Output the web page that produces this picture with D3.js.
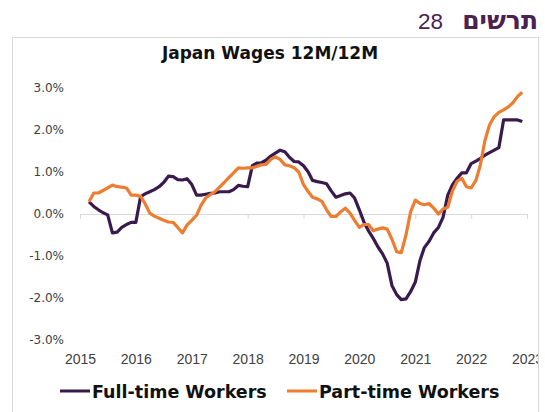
<!DOCTYPE html>
<html>
<head>
<meta charset="utf-8">
<script src="https://cdn.jsdelivr.net/npm/d3@7"></script>
<style>
  html, body { margin: 0; padding: 0; background: #fff; }
  svg { display: block; }
</style>
</head>
<body>
<div id="chart"></div>
<script>
// monthly readings, Mar 2015 .. Dec 2022 (y/y %)
const startMonth = new Date(2015, 2, 1);
const endMonth = new Date(2023, 0, 1);

const fullTime = [
  0.29, 0.18, 0.10, 0.03, -0.02, -0.45, -0.43, -0.32, -0.25, -0.20,
  -0.20, 0.41, 0.48, 0.53, 0.58, 0.65, 0.75, 0.90, 0.89, 0.82,
  0.81, 0.84, 0.70, 0.45, 0.45, 0.47, 0.49, 0.50, 0.53, 0.53,
  0.53, 0.58, 0.68, 0.66, 0.65, 1.15, 1.21, 1.22, 1.28, 1.38,
  1.45, 1.52, 1.48, 1.35, 1.25, 1.24, 1.15, 1.00, 0.80, 0.77,
  0.75, 0.72, 0.55, 0.40, 0.44, 0.48, 0.50, 0.38, 0.10, -0.20,
  -0.40, -0.58, -0.78, -0.95, -1.17, -1.70, -1.92, -2.04, -2.02, -1.85,
  -1.62, -1.10, -0.80, -0.65, -0.45, -0.32, -0.08, 0.45, 0.70, 0.85,
  0.98, 0.98, 1.20, 1.26, 1.32, 1.40, 1.46, 1.52, 1.58, 2.24,
  2.24, 2.24, 2.24, 2.20
];

const partTime = [
  0.29, 0.50, 0.50, 0.56, 0.62, 0.69, 0.65, 0.64, 0.62, 0.45,
  0.45, 0.42, 0.25, 0.02, -0.05, -0.10, -0.15, -0.19, -0.20, -0.32,
  -0.45, -0.26, -0.15, -0.03, 0.20, 0.38, 0.46, 0.53, 0.64, 0.75,
  0.87, 0.98, 1.10, 1.09, 1.10, 1.10, 1.13, 1.17, 1.18, 1.30,
  1.36, 1.30, 1.17, 1.15, 1.10, 1.00, 0.70, 0.53, 0.40, 0.36,
  0.30, 0.10, -0.06, -0.06, 0.05, 0.14, 0.02, -0.15, -0.32, -0.25,
  -0.25, -0.40, -0.36, -0.33, -0.36, -0.60, -0.90, -0.92, -0.50, 0.05,
  0.33, 0.25, 0.22, 0.25, 0.14, 0.00, 0.12, 0.16, 0.55, 0.78,
  0.85, 0.65, 0.62, 0.80, 1.15, 1.75, 2.12, 2.32, 2.42, 2.48,
  2.55, 2.65, 2.80, 2.90
];

const yTicks = [3, 2, 1, 0, -1, -2, -3];
const yearLabels = ["2015", "2016", "2017", "2018", "2019", "2020", "2021", "2022", "2023"];
const seriesNames = ["Full-time Workers", "Part-time Workers"];

const width = 545;
const height = 412;
const purple = "#3a1a4d";
const orange = "#ed7d31";

const months = d3.timeMonth.range(startMonth, endMonth);

const x = d3.scaleTime()
  .domain([new Date(2015, 0, 1), new Date(2023, 0, 1)])
  .range([80, 527]);

const y = d3.scaleLinear()
  .domain([-3, 3])
  .range([340, 88]);

const svg = d3.select("#chart").append("svg")
  .attr("width", width)
  .attr("height", height);

svg.append("clipPath").attr("id", "frame-clip")
  .append("rect")
  .attr("x", 0).attr("y", 0)
  .attr("width", 538).attr("height", height);

// header (hebrew)
svg.append("text")
  .attr("x", 538).attr("y", 29)
  .attr("text-anchor", "end")
  .style("font-family", "'DejaVu Sans', sans-serif")
  .style("font-weight", "bold")
  .style("font-size", "25px")
  .attr("fill", "#4b2150")
  .text("תרשים");

svg.append("text")
  .attr("x", 443).attr("y", 29)
  .attr("text-anchor", "end")
  .style("font-family", "'Liberation Sans', Arial, sans-serif")
  .style("font-size", "22.5px")
  .attr("fill", "#4b2150")
  .text("28");

// chart frame
svg.append("rect")
  .attr("x", 12.5).attr("y", 37.5)
  .attr("width", 526).attr("height", 400)
  .attr("fill", "none")
  .attr("stroke", "#d9d9d9");

svg.append("text")
  .attr("x", 270).attr("y", 59)
  .attr("text-anchor", "middle")
  .style("font-family", "'DejaVu Sans', sans-serif")
  .style("font-weight", "bold")
  .style("font-size", "17px")
  .attr("fill", "#111")
  .text("Japan Wages 12M/12M");

// y labels
const yAxis = svg.append("g")
  .attr("transform", "translate(66,0)")
  .call(d3.axisLeft(y).tickValues(yTicks).tickSize(0).tickPadding(2)
    .tickFormat(d => d.toFixed(1) + "%"));
yAxis.select(".domain").remove();
yAxis.selectAll("text")
  .style("font-family", "'DejaVu Sans', sans-serif")
  .style("font-size", "12px")
  .attr("fill", "#404040");

// zero line with year ticks
const zeroAxis = svg.append("g")
  .attr("transform", `translate(0,${y(0)})`)
  .call(d3.axisBottom(x).ticks(d3.timeYear.every(1)).tickSize(5).tickSizeOuter(0).tickFormat(""));
zeroAxis.selectAll(".domain, line").attr("stroke", "#d9d9d9");

// year labels at the bottom
const yearAxis = svg.append("g")
  .attr("clip-path", "url(#frame-clip)")
  .append("g")
  .attr("transform", `translate(0,${y(-3)})`)
  .call(d3.axisBottom(x).ticks(d3.timeYear.every(1)).tickSize(0).tickPadding(14)
    .tickFormat((d, i) => yearLabels[i]));
yearAxis.select(".domain").remove();
yearAxis.selectAll("text")
  .style("font-family", "'Liberation Sans', Arial, sans-serif")
  .style("font-size", "14px")
  .attr("fill", "#404040");

const line = d3.line()
  .x((d, i) => x(months[i]))
  .y(d => y(d));

svg.append("path")
  .datum(fullTime)
  .attr("d", line)
  .attr("fill", "none")
  .attr("stroke", purple)
  .attr("stroke-width", 3.2)
  .attr("stroke-linejoin", "round");

svg.append("path")
  .datum(partTime)
  .attr("d", line)
  .attr("fill", "none")
  .attr("stroke", orange)
  .attr("stroke-width", 3.2)
  .attr("stroke-linejoin", "round");

// legend
const legendX = [60, 287];
const legendColors = [purple, orange];
const legend = svg.append("g");
seriesNames.forEach((name, i) => {
  legend.append("line")
    .attr("x1", legendX[i]).attr("x2", legendX[i] + 30)
    .attr("y1", 391).attr("y2", 391)
    .attr("stroke", legendColors[i])
    .attr("stroke-width", 3);
  legend.append("text")
    .attr("x", legendX[i] + 32).attr("y", 398)
    .style("font-family", "'DejaVu Sans', sans-serif")
    .style("font-weight", "bold")
    .style("font-size", "17.5px")
    .attr("fill", "#111")
    .text(name);
});
</script>
</body>
</html>
